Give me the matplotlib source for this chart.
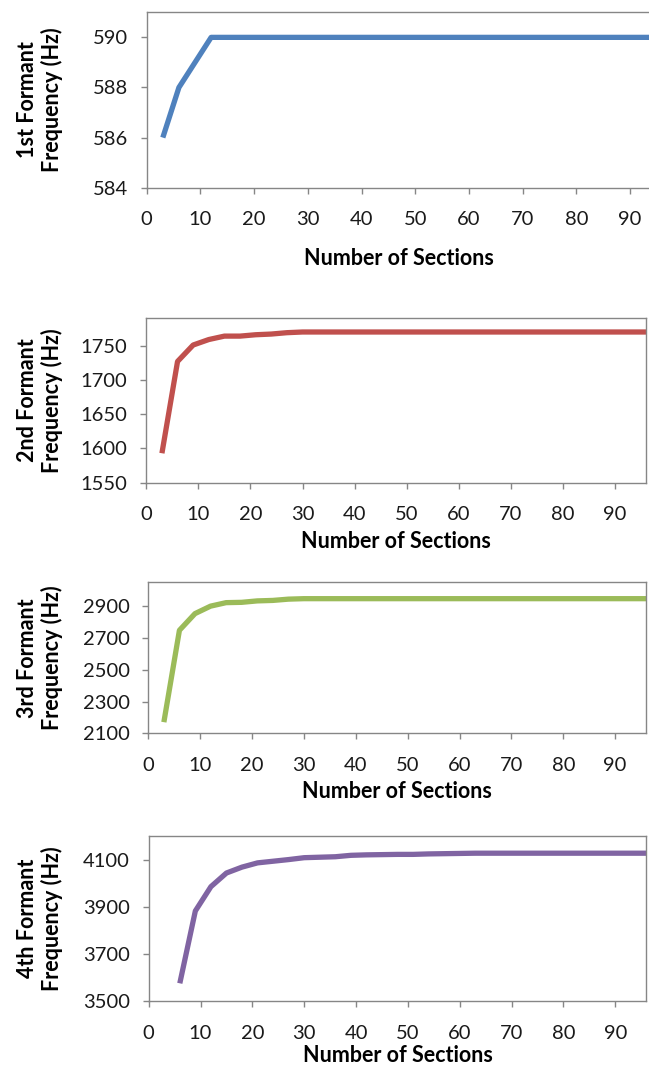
import matplotlib
matplotlib.use("Agg")
import matplotlib.pyplot as plt

plt.rcParams['font.family'] = ['Lato', 'DejaVu Sans']

# number of sections (x) for each formant curve
sections = [3, 6, 9, 12, 15, 18, 21, 24, 27, 30, 33, 36, 39, 42, 45, 48,
            51, 54, 57, 60, 63, 66, 69, 72, 75, 78, 81, 84, 87, 90, 93, 96]
sections_f4 = sections[1:]

# formant frequencies (Hz)
f1 = [586, 588, 589, 590, 590, 590, 590, 590, 590, 590, 590, 590, 590, 590,
      590, 590, 590, 590, 590, 590, 590, 590, 590, 590, 590, 590, 590, 590,
      590, 590, 590, 590]
f2 = [1593, 1727, 1751, 1759, 1764, 1764, 1766, 1767, 1769, 1770, 1770, 1770,
      1770, 1770, 1770, 1770, 1770, 1770, 1770, 1770, 1770, 1770, 1770, 1770,
      1770, 1770, 1770, 1770, 1770, 1770, 1770, 1770]
f3 = [2170, 2748, 2853, 2900, 2922, 2924, 2933, 2936, 2944, 2947, 2947, 2947,
      2947, 2947, 2947, 2947, 2947, 2947, 2947, 2947, 2947, 2947, 2947, 2947,
      2947, 2947, 2947, 2947, 2947, 2947, 2947, 2947]
f4 = [3575, 3882, 3985, 4043, 4068, 4086, 4093, 4100, 4108, 4110, 4112, 4118,
      4120, 4121, 4122, 4122, 4124, 4125, 4126, 4127, 4127, 4127, 4127, 4127,
      4127, 4127, 4127, 4127, 4127, 4127, 4127]

ylabels = ["1st Formant\nFrequency (Hz)", "2nd Formant\nFrequency (Hz)",
           "3rd Formant\nFrequency (Hz)", "4th Formant\nFrequency (Hz)"]
yticks = [[584, 586, 588, 590],
          [1550, 1600, 1650, 1700, 1750],
          [2100, 2300, 2500, 2700, 2900],
          [3500, 3700, 3900, 4100]]
xticks = [0, 10, 20, 30, 40, 50, 60, 70, 80, 90]

W, H = 649, 1068
fig = plt.figure(figsize=(W / 100, H / 100), dpi=100)

# panel boxes in pixels: left, top, right, bottom
boxes = [(146.7, 12.3, 651.5, 187.7),
         (146.3, 318.3, 646.3, 482.7),
         (148.3, 582.3, 646.3, 733.3),
         (148.7, 836.0, 646.3, 1001.0)]
ylims = [(584, 591), (1550, 1790), (2100, 3050), (3500, 4200)]
xmax = [94, 96, 96, 96]
xlabel_y = [258, 541, 792, 1055]
colors = ['#4F81BD', '#C0504D', '#9BBB59', '#8064A2']
xs = [sections, sections, sections, sections_f4]
ys = [f1, f2, f3, f4]

for i in range(4):
    l, t, r, b = boxes[i]
    ax = fig.add_axes([l / W, 1 - b / H, (r - l) / W, (b - t) / H])
    ax.plot(xs[i], ys[i], color=colors[i], lw=3.8, solid_capstyle='butt')
    ax.set_xlim(0, xmax[i])
    ax.set_ylim(*ylims[i])
    ax.set_xticks(xticks)
    ax.set_yticks(yticks[i])
    for s in ax.spines.values():
        s.set_color('#868686')
        s.set_linewidth(1.0)
    ax.tick_params(axis='both', direction='out', length=4.5, width=1.0,
                   color='#868686', labelsize=14.5, labelcolor='#1a1a1a')
    ax.tick_params(axis='x', pad=12.5)
    ax.tick_params(axis='y', pad=9)

    ax.set_xlabel("Number of Sections", fontsize=15.5, fontweight='bold')
    ax.xaxis.label.set_va('center')
    ax.xaxis.set_label_coords(0.5, -(xlabel_y[i] - b) / (b - t))

    ax.set_ylabel(ylabels[i], fontsize=15.5, fontweight='bold', linespacing=1.2)
    ax.yaxis.label.set_va('center')
    ax.yaxis.set_label_coords((40 - l) / (r - l), 0.5)

fig.savefig("out.png", dpi=100)
